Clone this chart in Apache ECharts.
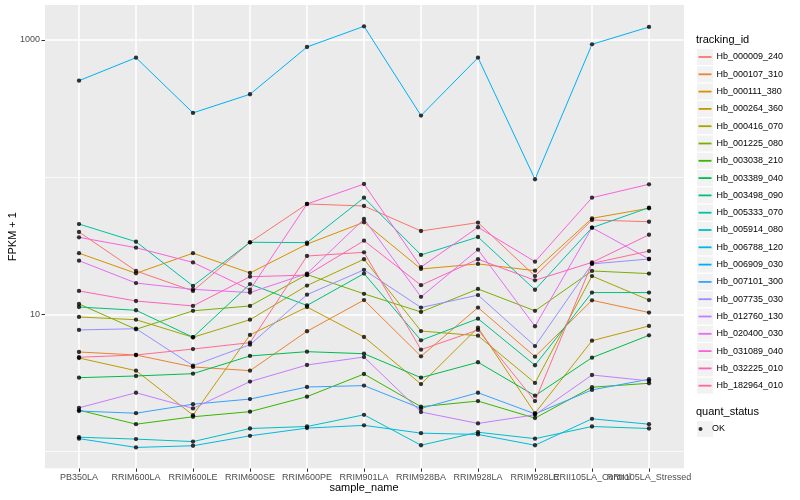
<!DOCTYPE html>
<html><head><meta charset="utf-8">
<script src="https://cdn.jsdelivr.net/npm/echarts@6/dist/echarts.min.js"></script>
<style>html,body{margin:0;padding:0;background:#fff}#c{width:800px;height:500px}</style>
</head><body><div id="c"></div>
<script>
const categories = ['PB350LA','RRIM600LA','RRIM600LE','RRIM600SE','RRIM600PE','RRIM901LA','RRIM928BA','RRIM928LA','RRIM928LE','RRII105LA_Control','RRII105LA_Stressed'];
const trackingIds = ['Hb_000009_240','Hb_000107_310','Hb_000111_380','Hb_000264_360','Hb_000416_070','Hb_001225_080','Hb_003038_210','Hb_003389_040','Hb_003498_090','Hb_005333_070','Hb_005914_080','Hb_006788_120','Hb_006909_030','Hb_007101_300','Hb_007735_030','Hb_012760_130','Hb_020400_030','Hb_031089_040','Hb_032225_010','Hb_182964_010'];
const colors = ['#F8766D','#EA8331','#D89000','#C09B00','#A3A500','#7CAE00','#39B600','#00BB4E','#00BF7D','#00C1A3','#00BFC4','#00BAE0','#00B0F6','#35A2FF','#9590FF','#C77CFF','#E76BF3','#FA62DB','#FF62BC','#FF6C91'];

const Hb_000009_240 = [39.8, 20.7, 14.8, 33.5, 63.7, 61.6, 40.5, 46.6, 19.0, 48.7, 47.3];
const Hb_000107_310 = [5.31, 5.05, 4.13, 3.88, 7.52, 12.7, 4.94, 11.2, 4.91, 12.65, 10.3];
const Hb_000111_380 = [27.9, 19.9, 27.9, 20.0, 32.5, 46.9, 21.4, 23.3, 20.8, 50.1, 59.3];
const Hb_000264_360 = [4.80, 3.88, 1.84, 7.07, 11.3, 6.83, 3.10, 7.99, 1.90, 6.42, 8.22];
const Hb_000416_070 = [9.56, 9.13, 6.80, 9.13, 16.2, 25.2, 7.55, 6.98, 3.16, 19.0, 12.7];
const Hb_001225_080 = [11.9, 7.77, 10.6, 11.5, 19.5, 14.1, 10.4, 15.3, 10.6, 20.7, 19.8];
const Hb_003038_210 = [2.00, 1.58, 1.79, 1.95, 2.51, 3.67, 2.12, 2.33, 1.75, 2.94, 3.14];
const Hb_003389_040 = [3.45, 3.55, 3.69, 4.97, 5.34, 5.16, 3.45, 4.47, 2.55, 4.83, 7.03];
const Hb_003498_090 = [11.3, 10.7, 6.80, 16.6, 11.6, 19.8, 6.46, 9.29, 4.25, 14.4, 14.4];
const Hb_005333_070 = [45.5, 33.8, 16.1, 33.5, 33.3, 70.8, 27.1, 36.6, 15.1, 42.8, 59.9];
const Hb_005914_080 = [1.27, 1.23, 1.18, 1.47, 1.52, 1.85, 1.11, 1.38, 1.24, 1.52, 1.47];
const Hb_006788_120 = [1.24, 1.07, 1.10, 1.30, 1.48, 1.55, 1.36, 1.33, 1.11, 1.73, 1.58];
const Hb_006909_030 = [505, 743, 294, 402, 889, 1258, 281, 743, 96.5, 930, 1244];
const Hb_007101_300 = [1.97, 1.90, 2.21, 2.41, 2.95, 3.02, 2.06, 2.68, 1.88, 2.81, 3.36];
const Hb_007735_030 = [7.69, 7.85, 4.22, 6.00, 13.9, 21.1, 11.2, 13.8, 5.87, 23.3, 25.3];
const Hb_012760_130 = [2.08, 2.68, 2.06, 3.23, 4.27, 4.88, 1.94, 1.60, 1.85, 3.61, 3.27];
const Hb_020400_030 = [24.6, 16.9, 15.2, 14.4, 19.8, 49.5, 13.4, 29.6, 8.18, 42.8, 25.3];
const Hb_031089_040 = [36.4, 30.6, 23.9, 15.1, 63.7, 89.1, 22.1, 43.1, 24.2, 70.8, 88.7];
const Hb_032225_010 = [14.8, 12.5, 11.5, 18.8, 19.3, 34.4, 16.3, 25.2, 17.7, 23.9, 38.0];
const Hb_182964_010 = [4.86, 5.05, 5.58, 6.21, 26.6, 28.3, 5.52, 7.69, 2.33, 23.5, 28.9];

const seriesValues = [Hb_000009_240, Hb_000107_310, Hb_000111_380, Hb_000264_360, Hb_000416_070, Hb_001225_080, Hb_003038_210, Hb_003389_040, Hb_003498_090, Hb_005333_070, Hb_005914_080, Hb_006788_120, Hb_006909_030, Hb_007101_300, Hb_007735_030, Hb_012760_130, Hb_020400_030, Hb_031089_040, Hb_032225_010, Hb_182964_010];

const yMajor = [10, 1000];
const yMinor = [1, 100];
const yMin = 0.7536, yMax = 1799;
const statusNames = ['OK'];

const FONT = '"Liberation Sans", Arial, Helvetica, sans-serif';
const chart = echarts.init(document.getElementById('c'), null, {renderer: 'canvas'});

const isMajor = v => yMajor.some(t => Math.abs(t - v) / t < 1e-6);

const lineSeries = trackingIds.map((id, i) => ({
  name: id, type: 'line', xAxisIndex: 1, yAxisIndex: 1,
  data: seriesValues[i], symbol: 'none', silent: true, z: 3,
  lineStyle: {width: 1, color: colors[i]}, itemStyle: {color: colors[i]}
}));

const points = [];
seriesValues.forEach(vals => vals.forEach((v, j) => points.push([categories[j], v])));

const keyBoxes = [];
for (let i = 0; i < trackingIds.length; i++) {
  keyBoxes.push({type: 'rect', left: 697, top: 49 + 17.3 * i, shape: {width: 16, height: 16}, style: {fill: '#F2F2F2'}, z: 0, silent: true});
}
keyBoxes.push({type: 'rect', left: 697, top: 421, shape: {width: 16, height: 16}, style: {fill: '#F2F2F2'}, z: 0, silent: true});

const option = {
  animation: false,
  backgroundColor: '#FFFFFF',
  textStyle: {fontFamily: FONT},
  title: [
    {text: 'tracking_id', left: 696, top: 34, padding: 0, textStyle: {fontSize: 11, fontWeight: 'normal', color: '#000', fontFamily: FONT}},
    {text: 'quant_status', left: 696, top: 406.5, padding: 0, textStyle: {fontSize: 11, fontWeight: 'normal', color: '#000', fontFamily: FONT}}
  ],
  graphic: keyBoxes,
  legend: [
    {data: trackingIds, orient: 'vertical', left: 698.5, top: 49, padding: 0, itemGap: 1.3,
     itemWidth: 13, itemHeight: 1.8, icon: 'rect', selectedMode: false,
     textStyle: {fontSize: 9, color: '#000', lineHeight: 16, fontFamily: FONT}},
    {data: statusNames, orient: 'vertical', left: 698.5, top: 421, padding: 0,
     itemWidth: 13, itemHeight: 4, icon: 'circle', selectedMode: false,
     textStyle: {fontSize: 9, color: '#000', lineHeight: 16, fontFamily: FONT}}
  ],
  grid: [
    {left: 45, top: 5, width: 639, height: 463.3, show: true, backgroundColor: '#EBEBEB', borderWidth: 0, containLabel: false, outerBoundsMode: 'none'},
    {left: 50.5, top: 5, width: 627, height: 463.3, containLabel: false, outerBoundsMode: 'none'}
  ],
  xAxis: [
    {gridIndex: 0, type: 'value', min: 0, max: 1, show: false},
    {gridIndex: 1, type: 'category', data: categories, boundaryGap: true,
     axisLine: {show: false},
     axisTick: {show: true, alignWithLabel: true, length: 3.5, lineStyle: {color: '#333333', width: 1}},
     axisLabel: {interval: 0, fontSize: 9, color: '#4D4D4D', margin: 5, hideOverlap: false, fontFamily: FONT},
     splitLine: {show: false},
     name: 'sample_name', nameLocation: 'middle', nameGap: 14, nameMoveOverlap: false,
     nameTextStyle: {fontSize: 11, color: '#000', fontFamily: FONT, verticalAlign: 'top'}}
  ],
  yAxis: [
    {gridIndex: 0, type: 'log', logBase: 10, min: yMin, max: yMax,
     axisLine: {show: false},
     axisTick: {show: true, length: 3.5, customValues: yMajor, lineStyle: {color: '#333333', width: 1}},
     axisLabel: {customValues: yMajor, fontSize: 9, color: '#4D4D4D', margin: 5, fontFamily: FONT,
                 formatter: v => isMajor(v) ? String(Math.round(v)) : ''},
     splitLine: {show: true, lineStyle: {color: '#FFFFFF', width: 1.5}},
     name: 'FPKM + 1', nameLocation: 'middle', nameGap: 27, nameRotate: 90, nameMoveOverlap: false,
     nameTextStyle: {fontSize: 11, color: '#000', fontFamily: FONT}},
    {gridIndex: 1, type: 'log', logBase: 10, min: yMin, max: yMax, show: false}
  ],
  series: [
    {type: 'line', xAxisIndex: 0, yAxisIndex: 0, data: [], silent: true, z: 1,
     markLine: {silent: true, symbol: ['none', 'none'], animation: false, label: {show: false},
                lineStyle: {color: '#FFFFFF', width: 0.7, type: 'solid'},
                data: yMinor.map(v => ({yAxis: v}))}},
    {type: 'line', xAxisIndex: 1, yAxisIndex: 1, data: [], silent: true, z: 1,
     markLine: {silent: true, symbol: ['none', 'none'], animation: false, label: {show: false},
                lineStyle: {color: '#FFFFFF', width: 1.5, type: 'solid'},
                data: categories.map(c => ({xAxis: c}))}},
    ...lineSeries,
    {name: 'OK', type: 'scatter', xAxisIndex: 1, yAxisIndex: 1, data: points, symbol: 'circle', symbolSize: 4.3,
     itemStyle: {color: '#000000'}, silent: true, z: 5}
  ]
};
chart.setOption(option);
</script>
</body></html>
